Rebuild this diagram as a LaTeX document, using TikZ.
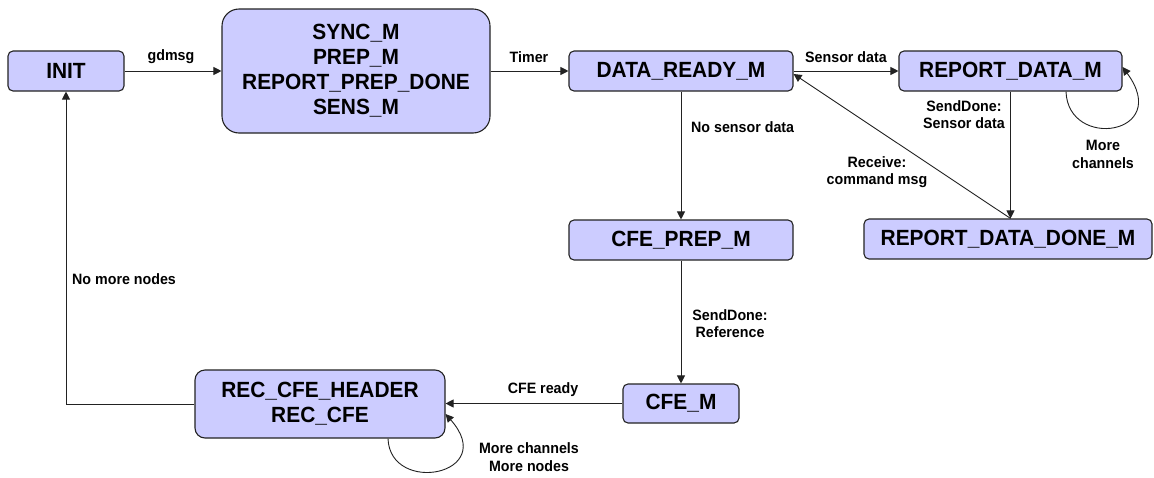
\documentclass[tikz,border=0pt]{standalone}
\usepackage{fontspec}
\setmainfont{Liberation Sans}[FakeStretch=0.95]
\usetikzlibrary{arrows.meta}
\definecolor{boxfill}{HTML}{CCCCFF}
\definecolor{boxline}{HTML}{222222}
\tikzset{
  state/.style={draw=boxline, line width=1.1pt, fill=boxfill, rounded corners=5pt,
    align=center, inner sep=0pt, font=\bfseries\fontsize{22}{25}\selectfont},
  arr/.style={draw=boxline, line width=0.9pt, -{Triangle[length=8pt,width=8pt]}},
  plain/.style={draw=boxline, line width=0.9pt},
  lbl/.style={align=center, inner sep=0pt, font=\bfseries\fontsize{15}{17.5}\selectfont}
}
\begin{document}
\begin{tikzpicture}[x=1pt,y=-1pt]
\useasboundingbox (0,0) rectangle (1154,477);
% states
\node[state, minimum width=116pt, minimum height=40pt] (INIT) at (66,71) {INIT};
\node[state, minimum width=268pt, minimum height=124pt, rounded corners=17pt] (SYNC) at (356,71)
  {SYNC\_M\\PREP\_M\\REPORT\_PREP\_DONE\\SENS\_M};
\node[state, minimum width=224pt, minimum height=40pt] (DR) at (681,71) {DATA\_READY\_M};
\node[state, minimum width=223pt, minimum height=40pt] (RD) at (1010.5,71) {REPORT\_DATA\_M};
\node[state, minimum width=224pt, minimum height=40pt] (CP) at (681,240) {CFE\_PREP\_M};
\node[state, minimum width=288pt, minimum height=40pt] (RDD) at (1008,239) {REPORT\_DATA\_DONE\_M};
\node[state, minimum width=116pt, minimum height=39pt] (CFE) at (681,403.5) {CFE\_M};
\node[state, minimum width=250pt, minimum height=68pt, rounded corners=10pt] (REC) at (320,404)
  {REC\_CFE\_HEADER\\REC\_CFE};
% connectors
\draw[arr] (INIT.east) -- (SYNC.west);
\draw[arr] (SYNC.east) -- (DR.west);
\draw[arr] (DR.east) -- (RD.west);
\draw[arr] (DR.south) -- (CP.north);
\coordinate (rddtop) at (RD.south |- RDD.north);
\draw[arr] (RD.south) -- (rddtop);
\draw[arr] (rddtop) -- ([yshift=-3pt]DR.east);
\draw[arr] ([xshift=55.5pt]RD.south) .. controls +(2,59) and +(50,68) .. ([yshift=4pt]RD.east);
\draw[arr] (CP.south) -- (CFE.north);
\draw[arr] (CFE.west) -- (CFE.west -| REC.east);
\draw[arr] ([xshift=68pt]REC.south) .. controls +(2,57) and +(54,61) .. ([yshift=-10pt]REC.east);
\draw[arr] (REC.west) -- (INIT.south |- REC.west) -- (INIT.south);
% labels
\node[lbl] (l1) at (171,57) {gdmsg};
\node[lbl] (l2) at (529,57) {Timer};
\node[lbl] (l3) at (846,57) {Sensor data};
\node[lbl, anchor=west] (l4) at (691,127) {No sensor data};
\node[lbl] (l5) at (964,114.5) {SendDone:\\Sensor data};
\node[lbl] (l6) at (1103,154.5) {More\\channels};
\node[lbl] (l7) at (877,172) {Receive:\\command msg};
\node[lbl] (l8) at (730,323.7) {SendDone:\\Reference};
\node[lbl] (l9) at (543,390) {CFE ready};
\node[lbl] (l10) at (529,457) {More channels\\More nodes};
\node[lbl, anchor=west] (l11) at (72,279) {No more nodes};
\end{tikzpicture}
\end{document}
